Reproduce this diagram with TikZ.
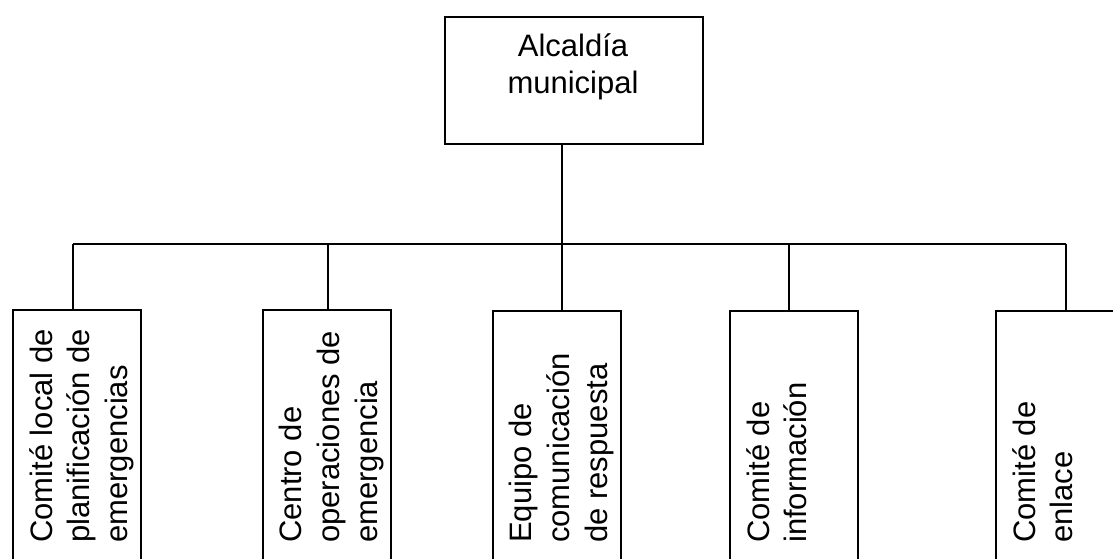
\documentclass[tikz,border=0pt]{standalone}
\usepackage{fontspec}
\setmainfont{Liberation Sans}
\begin{document}
\begin{tikzpicture}[x=1pt,y=-1pt,
  box/.style={draw=black,line width=1.6pt,rectangle,inner sep=0pt,anchor=north west,fill=white},
  label/.style={inner sep=0pt,align=left,font=\fontsize{31}{37.7}\selectfont},
  vlabel/.style={label,rotate=90,anchor=north west},
  conn/.style={draw=black,line width=1.6pt}]
\useasboundingbox (0,0) rectangle (1113,558);
\clip (0,0) rectangle (1113,558);
\fill[white] (0,0) rectangle (1113,558);
% top box
\node[box,minimum width=258pt,minimum height=127pt] (alc) at (444,16) {};
\node[label,align=center,anchor=north] (alct) at (573,33) {Alcaldía\\municipal};
% lower boxes
\node[box,minimum width=128pt,minimum height=300pt] (b1) at (12,309) {};
\node[box,minimum width=128pt,minimum height=300pt] (b2) at (262,309) {};
\node[box,minimum width=128pt,minimum height=300pt] (b3) at (492,310) {};
\node[box,minimum width=128pt,minimum height=300pt] (b4) at (729,310) {};
\node[box,minimum width=128pt,minimum height=300pt] (b5) at (995,310) {};
% texts
\node[vlabel] (t1) at (29,543) {Comité local de\\planificación de\\emergencias};
\node[vlabel] (t2) at (279,543) {Centro de\\operaciones de\\emergencia};
\node[vlabel] (t3) at (509,543) {Equipo de\\comunicación\\de respuesta};
\node[vlabel] (t4) at (746,543) {Comité de\\información};
\node[vlabel] (t5) at (1012,543) {Comité de\\enlace};
% bus coordinates
\coordinate (d1) at (73,244);
\coordinate (d2) at (328,244);
\coordinate (d3) at (562,244);
\coordinate (d4) at (789,244);
\coordinate (d5) at (1066,244);
% connectors
\draw[conn] (alc.south -| d3) -- (d3 |- b3.north);
\draw[conn] (d1) -- (d5);
\draw[conn] (d1) -- (d1 |- b1.north);
\draw[conn] (d2) -- (d2 |- b2.north);
\draw[conn] (d4) -- (d4 |- b4.north);
\draw[conn] (d5) -- (d5 |- b5.north);
\end{tikzpicture}
\end{document}
